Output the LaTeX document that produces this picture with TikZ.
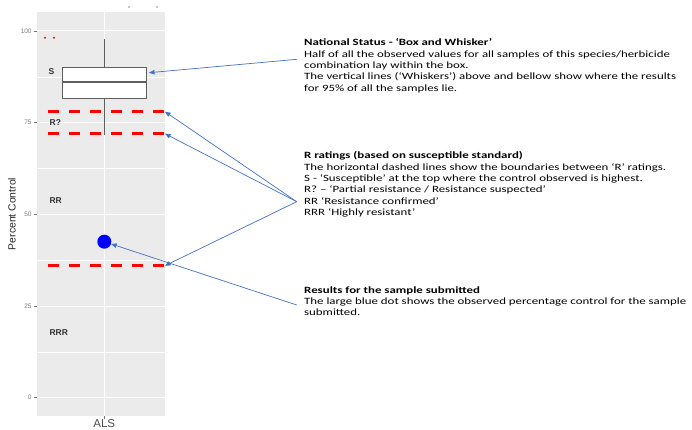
\documentclass[tikz,border=0pt]{standalone}
\usepackage{fontspec}
\usepackage{xcolor}
\usepackage{tikz}
\usetikzlibrary{arrows.meta, shapes.geometric}
\newfontfamily\notefont[FakeStretch=1.34]{Carlito}
\newfontfamily\plotfont{Liberation Sans}
\definecolor{panel}{RGB}{235,235,235}
\definecolor{pointer}{RGB}{68,114,196}
\definecolor{boxline}{RGB}{95,95,95}
\definecolor{ticktext}{RGB}{120,120,120}
\tikzstyle{note} = [anchor=north west, inner sep=0pt, align=left, font=\notefont\fontsize{9.6}{11.3}\selectfont]
\tikzstyle{rating} = [anchor=west, inner sep=0pt, text=black!80, font=\plotfont\bfseries\fontsize{8.5}{10}\selectfont]
\tikzstyle{ticklabel} = [anchor=east, inner sep=0pt, text=ticktext, font=\plotfont\fontsize{6.5}{8}\selectfont]
\tikzstyle{boxplot} = [rectangle, draw=boxline, fill=white, line width=0.9pt, inner sep=0pt]
\tikzstyle{boundary} = [red, line width=2.6pt, dash pattern=on 11pt off 10pt]
\tikzstyle{arrow} = [pointer, line width=0.7pt, ->, >={Triangle[length=5.5pt, width=4.5pt]}]

\begin{document}
\begin{tikzpicture}[x=1pt, y=-1pt]
	\useasboundingbox (0,0) rectangle (692,430);
	
	% Panel and grid
	\fill[panel] (37,12) rectangle (165,416);
	\foreach \v in {12.5,37.5,62.5,87.5}
		\draw[white, line width=0.5pt] (37,{397.7-3.667*\v}) -- (165,{397.7-3.667*\v});
	\foreach \v in {0,25,50,75,100} {
		\draw[white, line width=1pt] (37,{397.7-3.667*\v}) -- (165,{397.7-3.667*\v});
		\draw[ticktext, line width=0.5pt] (33.5,{397.7-3.667*\v}) -- (36.5,{397.7-3.667*\v});
		\node[ticklabel] at (31.8,{397.7-3.667*\v}) {\v};
	}
	\draw[white, line width=1pt] (104.3,12) -- (104.3,416);
	\draw[ticktext, line width=0.5pt] (104.3,416) -- (104.3,419);
	\fill[black!45] (129,7) circle (0.8pt);
	\fill[black!45] (157,7) circle (0.8pt);
	
	% Box and whiskers
	\draw[boxline, line width=0.9pt] (104.3,39.3) -- (104.3,67.3);
	\draw[boxline, line width=0.9pt] (104.3,98) -- (104.3,135);
	\node (box) [boxplot, minimum width=83.7pt, minimum height=30.7pt] at (104.2,82.65) {};
	\draw[boxline, line width=1.6pt] (box.west |- 0,82.3) -- (box.east |- 0,82.3);
	\fill[red] (45,37.7) circle (1.1pt);
	\fill[red] (54,37.7) circle (1.1pt);
	
	% Rating boundaries
	\coordinate (d78) at (165,111.7);
	\coordinate (d72) at (165,133.7);
	\coordinate (d36) at (165,265.7);
	\draw[boundary] (48,111.7) -- (d78);
	\draw[boundary] (48,133.7) -- (d72);
	\draw[boundary] (48,265.7) -- (d36);
	
	% Sample result
	\node (dot) [circle, fill=blue, inner sep=0pt, minimum size=14pt] at (104.3,241.7) {};
	
	% Plot labels
	\node (sLab) [rating] at (48.5,71.7) {S};
	\node (rqLab) [rating] at (49.5,123) {R?};
	\node (rrLab) [rating] at (49.3,200.7) {RR};
	\node (rrrLab) [rating] at (49.3,332.3) {RRR};
	\node (yTitle) [rotate=90, font=\plotfont\fontsize{10.4}{12}\selectfont, text=black!85] at (12,214) {Percent Control};
	\node (xLab) [font=\plotfont\fontsize{11.5}{13}\selectfont, text=black!70] at (104.3,424) {ALS};
	
	% Notes
	\node (status) [note] at (304,38.6) {\textbf{National Status - ‘Box and Whisker’}\\
		Half of all the observed values for all samples of this species/herbicide\\
		combination lay within the box.\\
		The vertical lines (‘Whiskers’) above and bellow show where the results\\
		for 95\% of all the samples lie.};
	\node (ratings) [note] at (304,151.6) {\textbf{R ratings (based on susceptible standard)}\\
		The horizontal dashed lines show the boundaries between ‘R’ ratings.\\
		S - ‘Susceptible’ at the top where the control observed is highest.\\
		R? – ‘Partial resistance / Resistance suspected’\\
		RR ‘Resistance confirmed’\\
		RRR ‘Highly resistant’};
	\node (result) [note] at (304,286.4) {\textbf{Results for the sample submitted}\\
		The large blue dot shows the observed percentage control for the sample\\
		submitted.};
	
	% Arrows
	\coordinate (statusSrc) at (297,59.3);
	\coordinate (ratingSrc) at (296.7,201.7);
	\coordinate (resultSrc) at (296.7,305);
	\coordinate (boxTip) at (149,72.7);
	\draw [arrow] (statusSrc) -- (boxTip);
	\draw [arrow] (ratingSrc) -- (d78);
	\draw [arrow] (ratingSrc) -- (d72);
	\draw [arrow] (ratingSrc) -- (d36);
	\draw [arrow] (resultSrc) -- (dot);
	
\end{tikzpicture}
\end{document}
